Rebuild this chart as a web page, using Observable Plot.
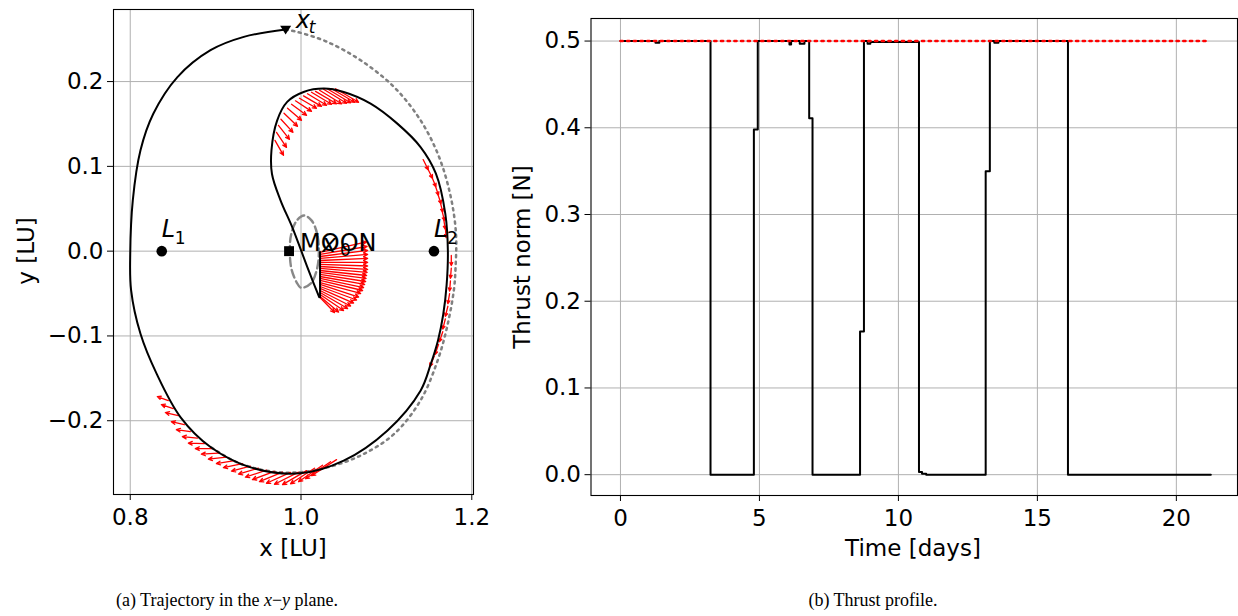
<!DOCTYPE html>
<html><head><meta charset="utf-8">
<script src="https://cdn.jsdelivr.net/npm/d3@7"></script>
<script src="https://cdn.jsdelivr.net/npm/@observablehq/plot@0.6"></script>
<style>
body{margin:0;background:#fff;}
#wrap{position:relative;width:1238px;height:616px;font-family:"DejaVu Sans";background:#fff;overflow:hidden;}
#left{position:absolute;left:0;top:0;}
#right{position:absolute;left:500px;top:0;}
.lab{position:absolute;font-size:23px;color:#000;white-space:nowrap;transform:translate(-50%,-50%);}
.rot{transform:translate(-50%,-50%) rotate(-90deg);}
.cap{position:absolute;font-family:"Liberation Serif";font-size:18px;color:#000;white-space:nowrap;transform:translate(-50%,-50%);}
</style></head><body>
<div id="wrap">
  <div id="left"></div>
  <div id="right"></div>
  <div class="lab rot" style="left:26px;top:251px">y [LU]</div>
  <div class="lab" style="left:293px;top:548px">x [LU]</div>
  <div class="lab rot" style="left:522px;top:257px">Thrust norm [N]</div>
  <div class="lab" style="left:913px;top:548px">Time [days]</div>
  <div class="cap" style="left:227px;top:600px">(a) Trajectory in the <i>x</i>−<i>y</i> plane.</div>
  <div class="cap" style="left:873px;top:600px">(b) Thrust profile.</div>
</div>
<script>
// ---------- Panel (a) data: trajectory in the x-y plane [LU] ----------
const descentLeg = [[1.0223, -0.001], [1.0223, -0.0543]];
const spiralLeg = [
  [1.0213,-0.0543],[1.0106,-0.0272],[1.0004,0.000],[0.9897,0.0283],[0.976,0.060],
  [0.966,0.091],[0.9654,0.119],[0.972,0.154],[0.9838,0.176],[1.003,0.1877],
  [1.0268,0.1917],[1.050,0.1877],[1.0815,0.174],[1.1128,0.1504],[1.140,0.1228],
  [1.158,0.0914],[1.169,0.044],[1.172,0.000],[1.1705,-0.040],[1.1665,-0.075],
  [1.1605,-0.105],[1.152,-0.133],[1.140,-0.1645],[1.101,-0.2117],[1.050,-0.247],[0.9986,-0.262],
  [0.941,-0.255],[0.894,-0.231],[0.859,-0.196],[0.831,-0.1448],[0.812,-0.0975],
  [0.801,-0.046],[0.800,-0.003],[0.803,0.060],[0.812,0.119],[0.827,0.162],
  [0.855,0.205],[0.894,0.237],[0.933,0.2527],[0.982,0.2613]
];
const targetOrbit = [
  [0.982,0.2613],[0.9955,0.2586],[1.0307,0.2468],[1.0698,0.2251],[1.1089,0.1936],
  [1.140,0.1543],[1.1617,0.111],[1.1754,0.0638],[1.1815,0.0205],[1.181,-0.0189],
  [1.179,-0.046],[1.171,-0.0897],[1.160,-0.129],[1.140,-0.176],[1.109,-0.2156],
  [1.0698,-0.241],[1.0307,-0.255],[0.9955,-0.261],[0.960,-0.259],[0.925,-0.249],[0.894,-0.231]
];
const moonOrbit = [
  [1.0209,-0.002],[1.0190,0.020],[1.0125,0.036],[1.0035,0.0421],[0.9950,0.036],[0.9885,0.020],
  [0.9869,0.000],[0.9888,-0.021],[0.9950,-0.037],[1.0000,-0.0432],[1.0115,-0.038],[1.0185,-0.022]
];
// thrust direction arrows: [x tail, y tail, x head, y head]
const thrustFan = [
  [1.0223,-0.0015,1.0768,0.0109],[1.0223,-0.0039,1.0774,0.0055],[1.0223,-0.0063,1.0780,0.0008],
  [1.0223,-0.0086,1.0780,-0.0039],[1.0223,-0.0110,1.0780,-0.0086],[1.0223,-0.0133,1.0780,-0.0133],
  [1.0223,-0.0157,1.0780,-0.0175],[1.0223,-0.0181,1.0780,-0.0216],[1.0223,-0.0204,1.0774,-0.0251],
  [1.0223,-0.0228,1.0768,-0.0287],[1.0223,-0.0251,1.0762,-0.0322],[1.0223,-0.0275,1.0757,-0.0358],
  [1.0223,-0.0299,1.0745,-0.0393],[1.0223,-0.0322,1.0733,-0.0429],[1.0223,-0.0346,1.0721,-0.0464],
  [1.0223,-0.0370,1.0698,-0.0499],[1.0223,-0.0393,1.0675,-0.0541],[1.0223,-0.0417,1.0651,-0.0576],
  [1.0223,-0.0440,1.0616,-0.0612],[1.0223,-0.0464,1.0581,-0.0647],[1.0223,-0.0488,1.0546,-0.0677],
  [1.0223,-0.0511,1.0499,-0.0700],[1.0223,-0.0535,1.0440,-0.0718],[1.0223,-0.0547,1.0393,-0.0724]
];
const thrustTop = [
  [0.9695,0.1307,0.9795,0.1130],[0.9713,0.1401,0.9830,0.1224],[0.9736,0.1484,0.9865,0.1319],
  [0.9765,0.1555,0.9906,0.1401],[0.9801,0.1626,0.9959,0.1472],[0.9842,0.1685,1.0006,0.1543],
  [0.9889,0.1732,1.0065,0.1602],[0.9935,0.1773,1.0123,0.1649],[0.9982,0.1803,1.0182,0.1685],
  [1.0029,0.1832,1.0240,0.1708],[1.0076,0.1856,1.0299,0.1720],[1.0123,0.1874,1.0358,0.1732],
  [1.0170,0.1885,1.0416,0.1738],[1.0217,0.1897,1.0475,0.1738],[1.0264,0.1909,1.0534,0.1744],
  [1.0311,0.1913,1.0581,0.1750],[1.0358,0.1915,1.0628,0.1756],[1.0405,0.1915,1.0675,0.1756]
];
const thrustRight = [
  [1.143,0.108,1.149,0.096],[1.148,0.098,1.154,0.086],[1.153,0.088,1.158,0.076],
  [1.157,0.078,1.161,0.066],[1.160,0.068,1.164,0.056],[1.163,0.058,1.166,0.046],
  [1.165,0.048,1.168,0.036],[1.167,0.038,1.169,0.026],[1.169,0.028,1.170,0.016],
  [1.176,-0.005,1.176,-0.017],[1.176,-0.020,1.175,-0.032],[1.175,-0.035,1.174,-0.047],
  [1.174,-0.050,1.172,-0.062],[1.172,-0.065,1.169,-0.077],[1.169,-0.080,1.166,-0.092],
  [1.166,-0.095,1.162,-0.107],[1.161,-0.110,1.157,-0.122],[1.156,-0.124,1.151,-0.136]
];
const thrustBottom = [
  [0.8446,-0.1763,0.8317,-0.1715],[0.8504,-0.1857,0.8364,-0.1810],[0.8563,-0.1940,0.8411,-0.1904],
  [0.8633,-0.2047,0.8481,-0.2011],[0.8704,-0.2129,0.8540,-0.2106],[0.8786,-0.2205,0.8610,-0.2188],
  [0.8868,-0.2270,0.8680,-0.2264],[0.8950,-0.2329,0.8762,-0.2329],[0.9032,-0.2383,0.8833,-0.2394],
  [0.9126,-0.2430,0.8915,-0.2453],[0.9220,-0.2471,0.9009,-0.2506],[0.9314,-0.2506,0.9091,-0.2554],
  [0.9408,-0.2536,0.9185,-0.2595],[0.9501,-0.2560,0.9267,-0.2630],[0.9595,-0.2583,0.9349,-0.2666],
  [0.9689,-0.2597,0.9431,-0.2695],[0.9783,-0.2607,0.9513,-0.2719],[0.9877,-0.2610,0.9595,-0.2737],
  [0.9971,-0.2607,0.9689,-0.2749],[1.0065,-0.2589,0.9783,-0.2754],[1.0158,-0.2560,0.9877,-0.2743],
  [1.0252,-0.2524,0.9971,-0.2719],[1.0346,-0.2483,1.0053,-0.2684],[1.0416,-0.2459,1.0123,-0.2648]
];
const librationX = [0.8369, 1.1557];
const librationY = [0, 0];
const librationSubs = ["1", "2"];
const moonPos = [0.986, 0];
const startPoint = [1.0223, -0.001];
const targetPoint = [0.982, 0.2613];
const xTicksA = [0.8, 1.0, 1.2];
const yTicksA = [-0.2, -0.1, 0.0, 0.1, 0.2];

// ---------- Panel (b) data: thrust profile ----------
const thrustTime = [0,1.26,1.40,3.24,4.80,4.94,6.08,6.14,6.45,6.62,6.79,6.91,8.62,8.76,8.89,8.99,10.74,10.85,11.0,13.14,13.29,13.45,13.6,16.10,21.24];
const thrustNorm = [0.5,0.498,0.5,0,0.398,0.5,0.496,0.5,0.497,0.5,0.411,0,0.165,0.5,0.497,0.499,0.003,0.001,0,0.35,0.5,0.498,0.5,0,0];
const maxThrustTime = [0, 21.13];
const maxThrustValue = [0.5, 0.5];
const xTicksB = [0, 5, 10, 15, 20];
const yTicksB = [0.0, 0.1, 0.2, 0.3, 0.4, 0.5];

// ---------- build ----------
const toArrow = ([x1,y1,x2,y2]) => ({x1,y1,x2,y2});
const arrows = [...thrustFan, ...thrustTop, ...thrustRight, ...thrustBottom].map(toArrow);
const grid = {stroke:"#b0b0b0", strokeOpacity:1, strokeWidth:1};
const triDown = {draw(ctx, size){ const r = Math.sqrt(size/Math.PI); ctx.moveTo(-r,-r*0.7); ctx.lineTo(r,-r*0.7); ctx.lineTo(0,r*0.9); ctx.closePath(); }};
const libs = librationX.map((x,i)=>({x, y:librationY[i], s:librationSubs[i]}));

const left = Plot.plot({
  width:490, height:570, marginLeft:113, marginRight:17, marginTop:9, marginBottom:76,
  x:{domain:[0.7804,1.202]}, y:{domain:[-0.287,0.285]},
  style:{fontFamily:"DejaVu Sans", fontSize:"23px", color:"black", background:"white", overflow:"visible"},
  marks:[
    Plot.gridX(xTicksA, grid),
    Plot.gridY(yTicksA, grid),
    Plot.line(targetOrbit, {curve:"catmull-rom", stroke:"#808080", strokeWidth:2.5, strokeDasharray:"2.2,4.5"}),
    Plot.line(moonOrbit, {curve:"catmull-rom-closed", stroke:"#888888", strokeWidth:2.4, strokeDasharray:"8,4"}),
    Plot.arrow(arrows, {x1:"x1", y1:"y1", x2:"x2", y2:"y2", stroke:"red", strokeWidth:1.3, headLength:5, headAngle:50}),
    Plot.line(descentLeg, {stroke:"black", strokeWidth:2}),
    Plot.line(spiralLeg, {curve:"catmull-rom", stroke:"black", strokeWidth:2}),
    Plot.dot(libs, {x:"x", y:"y", r:5.3, fill:"black", stroke:"none"}),
    Plot.dot([moonPos], {x:d=>d[0], y:d=>d[1], symbol:"square", r:5.6, fill:"black", stroke:"none"}),
    Plot.dot([targetPoint], {x:d=>d[0], y:d=>d[1], symbol:triDown, r:5.5, fill:"black", stroke:"none"}),
    Plot.text(libs, {x:"x", y:"y", text:()=>"L", textAnchor:"start", dy:-22, fontStyle:"italic", fontSize:24}),
    Plot.text(libs, {x:"x", y:"y", text:"s", textAnchor:"start", dx:13, dy:-13, fontSize:17}),
    Plot.text([moonPos], {x:d=>d[0], y:d=>d[1], text:()=>"MOON", textAnchor:"start", dx:11, dy:-8, fontSize:24}),
    Plot.text([startPoint], {x:d=>d[0], y:d=>d[1], text:()=>"x", textAnchor:"start", dx:2, dy:-8, fontStyle:"italic", fontSize:24}),
    Plot.text([startPoint], {x:d=>d[0], y:d=>d[1], text:()=>"0", textAnchor:"start", dx:20, dy:-1, fontSize:17}),
    Plot.text([targetPoint], {x:d=>d[0], y:d=>d[1], text:()=>"x", textAnchor:"start", dx:10, dy:-9, fontStyle:"italic", fontSize:24}),
    Plot.text([targetPoint], {x:d=>d[0], y:d=>d[1], text:()=>"t", textAnchor:"start", dx:23, dy:-2, fontStyle:"italic", fontSize:17}),
    Plot.frame({stroke:"black", strokeWidth:1.1}),
    Plot.axisX(xTicksA, {tickFormat:d3.format(".1f"), tickSize:6, tickPadding:8, label:null}),
    Plot.axisY(yTicksA, {tickFormat:d3.format(".1f"), tickSize:6, tickPadding:4, label:null})
  ]
});
document.getElementById("left").appendChild(left);

const thrust = thrustTime.map((t,i)=>({t, v:thrustNorm[i]}));
const limit = maxThrustTime.map((t,i)=>({t, v:maxThrustValue[i]}));
const right = Plot.plot({
  width:738, height:570, marginLeft:90.5, marginRight:1, marginTop:18, marginBottom:75,
  x:{domain:[-1.06,22.2]}, y:{domain:[-0.024,0.526]},
  style:{fontFamily:"DejaVu Sans", fontSize:"23px", color:"black", background:"white", overflow:"visible"},
  marks:[
    Plot.gridX(xTicksB, grid),
    Plot.gridY(yTicksB, grid),
    Plot.line(thrust, {x:"t", y:"v", curve:"step-after", stroke:"black", strokeWidth:2}),
    Plot.line(limit, {x:"t", y:"v", stroke:"red", strokeWidth:2.5, strokeDasharray:"2.2,4.5"}),
    Plot.frame({stroke:"black", strokeWidth:1.1}),
    Plot.axisX(xTicksB, {tickFormat:d3.format("d"), tickSize:6, tickPadding:8, label:null}),
    Plot.axisY(yTicksB, {tickFormat:d3.format(".1f"), tickSize:6, tickPadding:4, label:null})
  ]
});
document.getElementById("right").appendChild(right);
</script>
</body></html>
